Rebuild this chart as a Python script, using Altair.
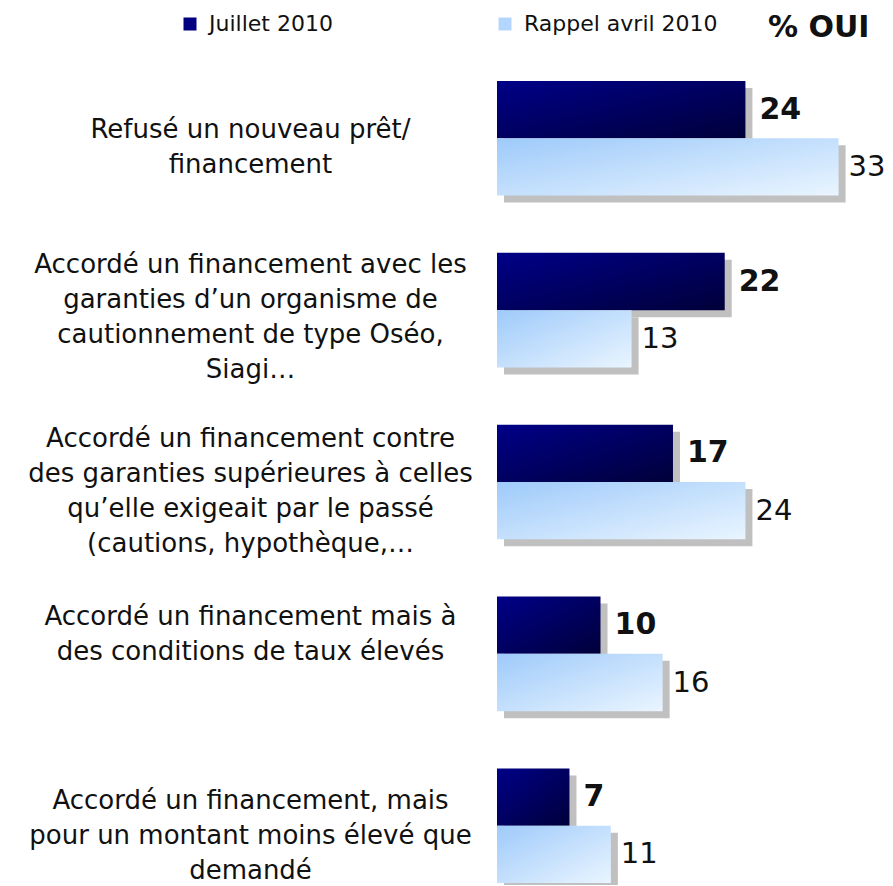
import json
import altair as alt
import pandas as pd

# ---- data ----
categories = [
    "Refusé un nouveau prêt/|financement",
    "Accordé un financement avec les|garanties d’un organisme de|cautionnement de type Oséo,|Siagi…",
    "Accordé un financement contre|des garanties supérieures à celles|qu’elle exigeait par le passé|(cautions, hypothèque,…",
    "Accordé un financement mais à|des conditions de taux élevés",
    "Accordé un financement, mais|pour un montant moins élevé que|demandé",
]
series = ["Juillet 2010", "Rappel avril 2010"]
juillet = [24, 22, 17, 10, 7]
avril = [33, 13, 24, 16, 11]

FONT = "DejaVu Sans"

# row layout: two bars per category and an empty spacer row between groups
records = []
row_domain = []
for i, cat in enumerate(categories):
    row_domain += [cat, cat + "~b"]
    if i < len(categories) - 1:
        row_domain.append(f"~gap{i}")
    records.append({"row": cat, "series": series[0], "value": juillet[i]})
    records.append({"row": cat + "~b", "series": series[1], "value": avril[i]})
df = pd.DataFrame(records)

H = 802
W = 383
LH = 35  # label line height

# vertical nudge (px) of each category's label block, as placed in the reference
label_nudges = [20, -17, -14, -8, 4]

label_offset = {
    "condition": [
        {"test": f"datum.value == {json.dumps(cat, ensure_ascii=False)}", "value": nudge}
        for cat, nudge in zip(categories, label_nudges)
    ],
    "value": 0,
}

y_enc = alt.Y(
    "row:N",
    scale=alt.Scale(domain=row_domain, paddingInner=0, paddingOuter=0),
    sort=row_domain,
    title=None,
    axis=alt.Axis(
        labelExpr="indexof(datum.value, '~') >= 0 ? '' : split(datum.value, '|')",
        labelAlign="center",
        labelBaseline="middle",
        labelPadding=247,
        labelOffset=label_offset,
        labelFont=FONT,
        labelFontSize=26,
        labelLineHeight=LH,
        labelColor="#111111",
        labelLimit=600,
        ticks=False,
        tickSize=0,
        domain=False,
        grid=False,
        labelOverlap=False,
    ),
)
x_enc = alt.X("value:Q", scale=alt.Scale(domain=[0, 37], nice=False, zero=True), axis=None)

base = alt.Chart(df)

navy_grad = alt.Gradient(
    gradient="linear",
    stops=[alt.GradientStop(color="#000088", offset=0), alt.GradientStop(color="#00003a", offset=1)],
    x1=0, y1=0, x2=1, y2=1,
)
light_grad = alt.Gradient(
    gradient="linear",
    stops=[alt.GradientStop(color="#9ecafa", offset=0), alt.GradientStop(color="#eaf5ff", offset=1)],
    x1=0, y1=0, x2=1, y2=1,
)

legend_layer = base.mark_bar(opacity=0).encode(
    x=x_enc,
    y=y_enc,
    color=alt.Color(
        "series:N",
        scale=alt.Scale(domain=series, range=["#000080", "#b4d6fc"]),
        legend=alt.Legend(
            orient="none",
            legendX=-318,
            legendY=-68,
            direction="horizontal",
            title=None,
            symbolType="square",
            symbolSize=169,
            symbolOpacity=1,
            symbolStrokeWidth=0,
            labelFont=FONT,
            labelFontSize=22,
            labelColor="#111111",
            labelOffset=8,
            labelLimit=400,
            columnPadding=161,
        ),
    ),
)

shadow = base.mark_bar(color="#c0c0c0", xOffset=7, yOffset=7).encode(x=x_enc, y=y_enc)

navy = base.transform_filter(alt.datum.series == series[0]).mark_bar(color=navy_grad).encode(x=x_enc, y=y_enc)
light = base.transform_filter(alt.datum.series == series[1]).mark_bar(color=light_grad).encode(x=x_enc, y=y_enc)

txt_navy = base.transform_filter(alt.datum.series == series[0]).mark_text(
    align="left", baseline="middle", dx=14, font=FONT, fontSize=30, fontWeight="bold", color="#111111"
).encode(x=x_enc, y=y_enc, text="value:Q")
txt_light = base.transform_filter(alt.datum.series == series[1]).mark_text(
    align="left", baseline="middle", dx=10, font=FONT, fontSize=29, color="#111111"
).encode(x=x_enc, y=y_enc, text="value:Q")

chart = (
    alt.layer(legend_layer, shadow, navy, light, txt_navy, txt_light)
    .properties(
        width=W,
        height=H,
        autosize="none",
        background="white",
        padding={"left": 489, "top": 73, "right": 5, "bottom": 2},
        title=alt.TitleParams(
            "% OUI", anchor="end", fontSize=30, fontWeight="bold", font=FONT, color="#111111",
            offset=0, dx=-16, dy=30,
        ),
    )
    .configure_view(stroke=None)
)

chart.save("out.html", embed_options={"renderer": "svg", "actions": False})
